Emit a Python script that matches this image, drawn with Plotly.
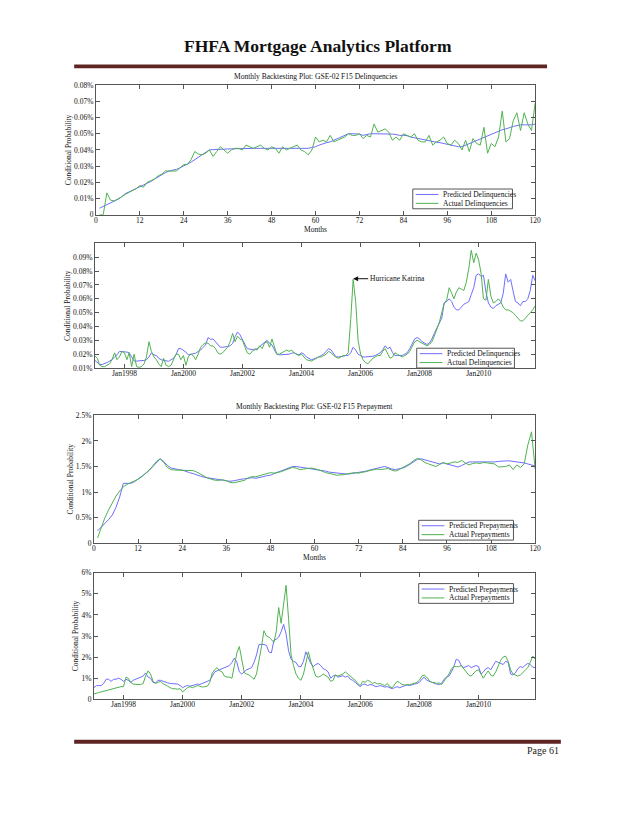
import plotly.graph_objects as go
import pandas as pd

# page size (the browser window); body has an 8px default margin
PAGE_W, PAGE_H = 640, 828
OFF = 8
W, H = PAGE_W - 2 * OFF, PAGE_H - 2 * OFF

# ---------------- data ----------------
months = list(range(1, 121))
dates = [d.strftime("%Y-%m-%d") for d in pd.date_range("1997-01-01", periods=180, freq="MS")]

month_ticks = [0, 12, 24, 36, 48, 60, 72, 84, 96, 108, 120]
date_tick_vals = ["1998-01-01", "2000-01-01", "2002-01-01", "2004-01-01",
                  "2006-01-01", "2008-01-01", "2010-01-01"]
date_tick_text = ["Jan1998", "Jan2000", "Jan2002", "Jan2004", "Jan2006", "Jan2008", "Jan2010"]

dq1_ticks = [0, 0.01, 0.02, 0.03, 0.04, 0.05, 0.06, 0.07, 0.08]
dq1_tick_text = ["0", "0.01%", "0.02%", "0.03%", "0.04%", "0.05%", "0.06%", "0.07%", "0.08%"]
dq2_ticks = [0.01, 0.02, 0.03, 0.04, 0.05, 0.06, 0.07, 0.08, 0.09]
dq2_tick_text = ["0.01%", "0.02%", "0.03%", "0.04%", "0.05%", "0.06%", "0.07%", "0.08%", "0.09%"]
pp1_ticks = [0, 0.5, 1, 1.5, 2, 2.5]
pp1_tick_text = ["0", "0.5%", "1%", "1.5%", "2%", "2.5%"]
pp2_ticks = [0, 1, 2, 3, 4, 5, 6]
pp2_tick_text = ["0", "1%", "2%", "3%", "4%", "5%", "6%"]

dq_names = ["Predicted Delinquencies", "Actual Delinquencies"]
pp_names = ["Predicted Prepayments", "Actual Prepayments"]

# Plot 1: delinquencies by loan age (percent)
dq_age_pred = [
    0.004, 0.005, 0.006, 0.007, 0.008, 0.0095, 0.011, 0.013, 0.014, 0.015,
    0.016, 0.017, 0.018, 0.019, 0.0205, 0.022, 0.0235, 0.025, 0.026, 0.027,
    0.0275, 0.028, 0.029, 0.030, 0.031, 0.0325, 0.034, 0.0355, 0.037, 0.0385,
    0.040, 0.0402, 0.0404, 0.0405, 0.0405, 0.0406, 0.0407, 0.0408, 0.0408, 0.041,
    0.041, 0.041, 0.041, 0.041, 0.041, 0.041, 0.041, 0.041, 0.041, 0.041,
    0.041, 0.041, 0.041, 0.041, 0.041, 0.041, 0.0408, 0.041, 0.0415, 0.042,
    0.043, 0.044, 0.0445, 0.045, 0.046, 0.047, 0.048, 0.049, 0.050, 0.050,
    0.050, 0.0498, 0.049, 0.0495, 0.050, 0.050, 0.050, 0.050, 0.050, 0.050,
    0.0498, 0.0495, 0.049, 0.049, 0.0488, 0.048, 0.0475, 0.047, 0.0465, 0.046,
    0.0455, 0.045, 0.0448, 0.0445, 0.044, 0.0435, 0.043, 0.0425, 0.042, 0.042,
    0.043, 0.044, 0.045, 0.046, 0.047, 0.048, 0.049, 0.050, 0.051, 0.052,
    0.0525, 0.053, 0.054, 0.0545, 0.055, 0.0555, 0.0555, 0.0555, 0.0555, 0.056,
]
dq_age_act = [
    0.000, 0.000, 0.0135, 0.009, 0.0085, 0.0095, 0.011, 0.0125, 0.014, 0.015,
    0.016, 0.018, 0.017, 0.020, 0.021, 0.022, 0.024, 0.025, 0.027, 0.027,
    0.027, 0.027, 0.029, 0.031, 0.031, 0.034, 0.039, 0.0375, 0.037, 0.038,
    0.040, 0.036, 0.039, 0.042, 0.040, 0.038, 0.040, 0.041, 0.041, 0.040,
    0.043, 0.042, 0.041, 0.042, 0.043, 0.041, 0.040, 0.042, 0.041, 0.038,
    0.042, 0.040, 0.041, 0.042, 0.043, 0.040, 0.039, 0.037, 0.040, 0.048,
    0.045, 0.046, 0.045, 0.049, 0.045, 0.046, 0.047, 0.048, 0.050, 0.049,
    0.049, 0.050, 0.047, 0.049, 0.048, 0.056, 0.051, 0.052, 0.053, 0.051,
    0.046, 0.048, 0.046, 0.050, 0.049, 0.048, 0.050, 0.046, 0.045, 0.045,
    0.049, 0.043, 0.045, 0.046, 0.048, 0.044, 0.043, 0.046, 0.044, 0.040,
    0.046, 0.039, 0.047, 0.044, 0.043, 0.054, 0.038, 0.044, 0.042, 0.048,
    0.064, 0.045, 0.047, 0.058, 0.063, 0.052, 0.063, 0.056, 0.052, 0.069,
]

# Plot 2: delinquencies by calendar month, Jan1997-Dec2011 (percent)
dq_cal_pred = [
    0.0155, 0.014, 0.0125, 0.0125, 0.013, 0.014, 0.015, 0.016, 0.018, 0.0195, 0.022, 0.022,
    0.022, 0.0215, 0.021, 0.018, 0.015, 0.015, 0.015, 0.015, 0.0155, 0.016, 0.018, 0.021,
    0.0195, 0.019, 0.017, 0.016, 0.0155, 0.015, 0.0148, 0.016, 0.017, 0.0195, 0.024, 0.024,
    0.023, 0.0215, 0.0195, 0.020, 0.020, 0.0207, 0.022, 0.023, 0.025, 0.0266, 0.032, 0.0307,
    0.031, 0.029, 0.0278, 0.025, 0.025, 0.025, 0.0255, 0.026, 0.0278, 0.0326, 0.036, 0.034,
    0.031, 0.027, 0.024, 0.0235, 0.023, 0.023, 0.024, 0.0255, 0.027, 0.028, 0.030, 0.0278,
    0.0266, 0.023, 0.020, 0.0195, 0.0195, 0.0195, 0.0195, 0.020, 0.0207, 0.021, 0.020, 0.0195,
    0.021, 0.020, 0.018, 0.017, 0.016, 0.0165, 0.017, 0.018, 0.019, 0.020, 0.022, 0.024,
    0.023, 0.020, 0.018, 0.018, 0.018, 0.0185, 0.019, 0.019, 0.021, 0.025, 0.023, 0.020,
    0.019, 0.018, 0.018, 0.018, 0.018, 0.0185, 0.019, 0.020, 0.021, 0.023, 0.026, 0.024,
    0.025, 0.021, 0.019, 0.019, 0.019, 0.019, 0.020, 0.021, 0.024, 0.028, 0.031, 0.032,
    0.031, 0.029, 0.028, 0.027, 0.028, 0.031, 0.035, 0.039, 0.042, 0.046, 0.057, 0.058,
    0.060, 0.058, 0.054, 0.052, 0.052, 0.054, 0.056, 0.057, 0.058, 0.063, 0.068, 0.077,
    0.078, 0.076, 0.077, 0.065, 0.057, 0.054, 0.053, 0.055, 0.056, 0.057, 0.064, 0.078,
    0.072, 0.074, 0.066, 0.058, 0.057, 0.055, 0.058, 0.058, 0.060, 0.066, 0.077, 0.073,
]
dq_cal_act = [
    0.0188, 0.017, 0.012, 0.011, 0.011, 0.012, 0.013, 0.016, 0.021, 0.016, 0.018, 0.022,
    0.021, 0.016, 0.021, 0.011, 0.020, 0.011, 0.0105, 0.011, 0.013, 0.018, 0.029, 0.022,
    0.018, 0.016, 0.013, 0.011, 0.017, 0.012, 0.011, 0.012, 0.016, 0.020, 0.020, 0.016,
    0.019, 0.012, 0.018, 0.020, 0.019, 0.016, 0.020, 0.025, 0.027, 0.028, 0.028, 0.026,
    0.026, 0.024, 0.021, 0.020, 0.021, 0.023, 0.025, 0.029, 0.035, 0.029, 0.033, 0.031,
    0.030, 0.025, 0.021, 0.020, 0.022, 0.024, 0.023, 0.026, 0.024, 0.028, 0.029, 0.025,
    0.031, 0.025, 0.020, 0.020, 0.021, 0.022, 0.023, 0.022, 0.023, 0.021, 0.020, 0.019,
    0.020, 0.018, 0.016, 0.0155, 0.015, 0.016, 0.017, 0.018, 0.018, 0.019, 0.020, 0.022,
    0.021, 0.019, 0.018, 0.017, 0.018, 0.019, 0.019, 0.021, 0.045, 0.074, 0.058, 0.030,
    0.020, 0.016, 0.014, 0.013, 0.015, 0.017, 0.018, 0.019, 0.019, 0.022, 0.024, 0.020,
    0.017, 0.018, 0.021, 0.020, 0.019, 0.018, 0.019, 0.020, 0.022, 0.025, 0.029, 0.030,
    0.029, 0.028, 0.027, 0.026, 0.027, 0.029, 0.033, 0.038, 0.043, 0.050, 0.057, 0.059,
    0.068, 0.064, 0.060, 0.065, 0.068, 0.067, 0.066, 0.072, 0.082, 0.095, 0.086, 0.093,
    0.088, 0.078, 0.060, 0.059, 0.074, 0.062, 0.057, 0.058, 0.060, 0.058, 0.054, 0.052,
    0.052, 0.051, 0.050, 0.048, 0.046, 0.044, 0.044, 0.046, 0.048, 0.050, 0.052, 0.055,
]

# Plot 3: prepayments by loan age (percent)
pp_age_pred = [
    0.24, 0.31, 0.38, 0.46, 0.55, 0.70, 0.90, 1.17, 1.17, 1.17,
    1.20, 1.25, 1.30, 1.36, 1.42, 1.50, 1.59, 1.65, 1.60, 1.52,
    1.47, 1.45, 1.44, 1.43, 1.40, 1.38, 1.36, 1.33, 1.31, 1.29,
    1.28, 1.27, 1.26, 1.25, 1.24, 1.22, 1.21, 1.22, 1.24, 1.25,
    1.26, 1.27, 1.28, 1.27, 1.28, 1.30, 1.32, 1.33, 1.36, 1.39,
    1.42, 1.45, 1.48, 1.50, 1.50, 1.49, 1.48, 1.47, 1.46, 1.45,
    1.44, 1.42, 1.41, 1.39, 1.38, 1.38, 1.37, 1.36, 1.35, 1.36,
    1.37, 1.38, 1.39, 1.41, 1.43, 1.45, 1.47, 1.48, 1.50, 1.48,
    1.45, 1.44, 1.45, 1.47, 1.50, 1.55, 1.60, 1.64, 1.65, 1.63,
    1.60, 1.58, 1.56, 1.55, 1.57, 1.55, 1.52, 1.50, 1.49, 1.52,
    1.55, 1.59, 1.59, 1.59, 1.59, 1.59, 1.58, 1.58, 1.59, 1.60,
    1.61, 1.61, 1.61, 1.60, 1.60, 1.59, 1.57, 1.55, 1.53, 1.51,
]
pp_age_act = [
    0.10, 0.30, 0.50, 0.65, 0.80, 0.92, 1.02, 1.10, 1.15, 1.18,
    1.21, 1.25, 1.30, 1.36, 1.43, 1.51, 1.60, 1.65, 1.58, 1.48,
    1.44, 1.43, 1.43, 1.43, 1.42, 1.42, 1.42, 1.39, 1.35, 1.31,
    1.27, 1.25, 1.23, 1.23, 1.24, 1.22, 1.19, 1.18, 1.20, 1.22,
    1.23, 1.28, 1.30, 1.30, 1.32, 1.35, 1.37, 1.38, 1.37, 1.38,
    1.40, 1.43, 1.46, 1.48, 1.47, 1.44, 1.45, 1.46, 1.47, 1.46,
    1.44, 1.41, 1.38, 1.37, 1.35, 1.33, 1.33, 1.34, 1.36, 1.37,
    1.38, 1.37, 1.38, 1.40, 1.42, 1.44, 1.45, 1.44, 1.45, 1.46,
    1.43, 1.41, 1.44, 1.48, 1.52, 1.56, 1.62, 1.66, 1.63, 1.58,
    1.55, 1.52, 1.50, 1.54, 1.58, 1.55, 1.57, 1.59, 1.58, 1.62,
    1.57, 1.53, 1.56, 1.57, 1.56, 1.58, 1.57, 1.56, 1.55, 1.49,
    1.50, 1.50, 1.53, 1.44, 1.53, 1.48, 1.55, 1.92, 2.18, 1.45,
]

# Plot 4: prepayments by calendar month, Jan1997-Dec2011 (percent)
pp_cal_pred = [
    0.55, 0.65, 0.65, 0.65, 0.75, 0.95, 0.95, 0.85, 0.95, 0.95, 1.00, 0.95,
    0.85, 0.95, 0.90, 0.80, 0.90, 0.95, 1.00, 1.05, 1.10, 1.25, 1.05, 1.00,
    0.80, 0.78, 0.90, 0.90, 0.85, 0.82, 0.78, 0.75, 0.75, 0.72, 0.72, 0.65,
    0.55, 0.62, 0.65, 0.62, 0.65, 0.70, 0.72, 0.70, 0.75, 0.82, 0.88, 0.90,
    1.10, 1.30, 1.35, 1.40, 1.45, 1.50, 1.55, 1.60, 1.75, 1.95, 1.75, 1.30,
    1.20, 1.30, 1.40, 1.45, 1.50, 1.75, 2.10, 2.60, 2.60, 2.60, 2.55, 2.25,
    2.20, 2.80, 2.85, 2.95, 3.20, 3.55, 3.10, 2.30, 1.90, 1.80, 1.75, 1.55,
    1.55, 1.80, 2.25, 2.00, 1.70, 1.55, 1.65, 1.70, 1.60, 1.45, 1.40, 1.30,
    1.00, 1.10, 1.15, 1.05, 1.10, 1.12, 1.05, 1.10, 0.95, 0.90, 0.80, 0.70,
    0.60, 0.70, 0.72, 0.65, 0.70, 0.68, 0.62, 0.60, 0.65, 0.62, 0.58, 0.60,
    0.55, 0.50, 0.55, 0.60, 0.55, 0.60, 0.65, 0.68, 0.65, 0.70, 0.72, 0.75,
    0.80, 0.95, 1.05, 0.90, 0.85, 0.80, 0.75, 0.72, 0.70, 0.75, 0.95, 1.05,
    1.10, 1.30, 1.55, 1.90, 1.85, 1.60, 1.50, 1.55, 1.60, 1.50, 1.55, 1.60,
    1.55, 1.20, 1.30, 1.45, 1.50, 1.40, 1.60, 1.80, 1.75, 1.70, 1.65, 1.80,
    1.75, 1.20, 1.15, 1.25, 1.45, 1.55, 1.50, 1.62, 1.70, 1.65, 1.52, 1.50,
]
pp_cal_act = [
    0.25, 0.30, 0.32, 0.35, 0.38, 0.42, 0.45, 0.48, 0.52, 0.55, 0.58, 0.60,
    0.60, 1.05, 1.00, 0.80, 0.72, 0.70, 0.70, 0.70, 0.75, 1.10, 1.35, 1.20,
    0.85, 0.75, 0.80, 0.85, 0.75, 0.70, 0.62, 0.55, 0.50, 0.50, 0.48, 0.50,
    0.35, 0.45, 0.55, 0.60, 0.55, 0.60, 0.65, 0.62, 0.58, 0.60, 0.62, 0.80,
    1.25, 1.40, 1.50, 1.35, 1.30, 1.10, 1.05, 1.05, 1.00, 1.60, 2.20, 2.50,
    1.80, 1.25, 1.20, 1.15, 1.05, 0.95, 1.20, 1.80, 2.50, 3.25, 3.00, 2.95,
    2.80, 2.70, 3.20, 4.35, 3.60, 4.40, 5.40, 3.80, 2.10, 1.60, 1.20, 1.00,
    0.90, 1.20, 1.80, 2.25, 1.80, 1.40, 1.10, 1.05, 1.10, 1.20, 1.10, 1.05,
    0.85, 0.90, 1.15, 1.10, 1.15, 1.20, 1.30, 1.20, 1.10, 1.00, 0.90, 0.75,
    0.65, 0.85, 0.80, 0.90, 0.85, 0.75, 0.80, 0.72, 0.75, 0.70, 0.65, 0.75,
    0.60, 0.55, 0.70, 0.85, 0.80, 0.70, 0.68, 0.68, 0.70, 0.72, 0.75, 0.80,
    0.90, 1.10, 1.15, 1.05, 0.90, 0.80, 0.80, 0.75, 0.78, 0.70, 0.85, 1.00,
    1.20, 1.45, 1.55, 1.55, 1.55, 1.60, 1.45, 1.30, 1.15, 1.10, 1.25, 1.35,
    1.40, 1.20, 1.00, 1.20, 1.35, 1.15, 1.10, 1.30, 1.60, 1.85, 2.00, 2.05,
    1.80, 1.40, 1.20, 1.15, 1.10, 1.15, 1.25, 1.35, 1.50, 1.75, 2.05, 1.90,
]

katrina_date = "2005-10-01"
katrina_value = 0.0745

# ---------------- style ----------------
BLUE = "rgb(110,110,255)"
GREEN = "rgb(80,178,80)"
COLORS = [BLUE, GREEN]
AX = "#555555"
SERIF = "Liberation Serif"
FS = 7.5


def px_x(x):
    """page pixel -> paper fraction"""
    return (x - OFF) / W


def px_y(y):
    return 1 - (y - OFF) / H


fig = go.Figure()


def add_pair(xs, pred, act, names, xa, ya):
    for vals, name, col in zip([pred, act], names, COLORS):
        fig.add_trace(go.Scatter(x=xs, y=vals, mode="lines", name=name,
                                 line=dict(color=col, width=1), xaxis=xa, yaxis=ya,
                                 showlegend=False))


add_pair(months, dq_age_pred, dq_age_act, dq_names, "x", "y")
add_pair(dates, dq_cal_pred, dq_cal_act, dq_names, "x2", "y2")
add_pair(months, pp_age_pred, pp_age_act, pp_names, "x3", "y3")
add_pair(dates, pp_cal_pred, pp_cal_act, pp_names, "x4", "y4")

tfont = dict(family=SERIF, size=FS, color="#111")
axis_common = dict(showline=True, linecolor=AX, linewidth=1, mirror="ticks",
                   ticks="inside", ticklen=4, tickcolor=AX, tickwidth=1,
                   showgrid=False, zeroline=False, tickfont=tfont)
xaxis_common = dict(axis_common, ticklabelstandoff=-2)
ytitle = dict(text="Conditional Probability", font=tfont, standoff=1)
xtitle = dict(text="Months", font=tfont, standoff=0)

boxes = {
    1: (95, 540, 82, 213),
    2: (94, 540, 242, 368),
    3: (93, 540, 416, 545),
    4: (93, 540, 575, 703),
}


def dom(b):
    l, r, t, btm = b
    return [px_x(l), px_x(r)], [px_y(btm), px_y(t)]


xd1, yd1 = dom(boxes[1])
xd2, yd2 = dom(boxes[2])
xd3, yd3 = dom(boxes[3])
xd4, yd4 = dom(boxes[4])

date_range = ["1997-01-01", "2011-12-01"]

fig.update_layout(
    width=W, height=H, margin=dict(l=0, r=0, t=0, b=0),
    paper_bgcolor="white", plot_bgcolor="white",
    xaxis=dict(xaxis_common, domain=xd1, anchor="y", range=[0, 120],
               tickvals=month_ticks, title=xtitle),
    yaxis=dict(axis_common, domain=yd1, anchor="x", range=[0, 0.08],
               tickvals=dq1_ticks, ticktext=dq1_tick_text, title=ytitle),
    xaxis2=dict(xaxis_common, domain=xd2, anchor="y2", type="date", range=date_range,
                tickvals=date_tick_vals, ticktext=date_tick_text),
    yaxis2=dict(axis_common, domain=yd2, anchor="x2", range=[0.01, 0.10],
                tickvals=dq2_ticks, ticktext=dq2_tick_text, title=ytitle),
    xaxis3=dict(xaxis_common, domain=xd3, anchor="y3", range=[0, 120],
                tickvals=month_ticks, title=xtitle),
    yaxis3=dict(axis_common, domain=yd3, anchor="x3", range=[0, 2.5],
                tickvals=pp1_ticks, ticktext=pp1_tick_text, title=ytitle),
    xaxis4=dict(xaxis_common, domain=xd4, anchor="y4", type="date", range=date_range,
                tickvals=date_tick_vals, ticktext=date_tick_text),
    yaxis4=dict(axis_common, domain=yd4, anchor="x4", range=[0, 6],
                tickvals=pp2_ticks, ticktext=pp2_tick_text, title=ytitle),
)

annotations = [
    dict(text="<b>FHFA Mortgage Analytics Platform</b>", x=px_x(320), y=px_y(42),
         xref="paper", yref="paper", showarrow=False, xanchor="center", yanchor="middle",
         font=dict(family=SERIF, size=17.5, color="#111")),
    dict(text="Monthly Backtesting Plot: GSE-02 F15 Delinquencies",
         x=(xd1[0] + xd1[1]) / 2, y=px_y(73), xref="paper", yref="paper",
         showarrow=False, xanchor="center", yanchor="middle", font=tfont),
    dict(text="Monthly Backtesting Plot: GSE-02 F15 Prepayment",
         x=(xd3[0] + xd3[1]) / 2, y=px_y(407), xref="paper", yref="paper",
         showarrow=False, xanchor="center", yanchor="middle", font=tfont),
    dict(text="Hurricane Katrina", x=katrina_date, y=katrina_value, xref="x2", yref="y2",
         showarrow=True, arrowhead=2, arrowsize=1, arrowwidth=1, arrowcolor="#111",
         ax=44, ay=0, font=tfont),
    dict(text="Page 61", x=px_x(566), y=px_y(755), xref="paper", yref="paper",
         showarrow=False, xanchor="right", yanchor="middle",
         font=dict(family=SERIF, size=10, color="#222")),
]

shapes = [
    dict(type="rect", xref="paper", yref="paper", x0=px_x(73), x1=px_x(552),
         y0=px_y(65), y1=px_y(61), fillcolor="#5e2424", line=dict(width=0)),
    dict(type="rect", xref="paper", yref="paper", x0=px_x(73), x1=px_x(566),
         y0=px_y(748), y1=px_y(744), fillcolor="#5e2424", line=dict(width=0)),
]

# compact MATLAB-style legend boxes (left, right, top, bottom on the page)
legend_boxes = [
    ((416, 517, 187, 207), dq_names),
    ((420, 519, 348, 368), dq_names),
    ((422, 518, 522, 542), pp_names),
    ((422, 518, 586, 606), pp_names),
]
for (l, r, t, b), names in legend_boxes:
    shapes.append(dict(type="rect", xref="paper", yref="paper",
                       x0=px_x(l), x1=px_x(r), y0=px_y(b), y1=px_y(t),
                       fillcolor="white", line=dict(color=AX, width=1), layer="above"))
    for k, (name, col) in enumerate(zip(names, COLORS)):
        yy = t + 5.5 + 9 * k
        shapes.append(dict(type="line", xref="paper", yref="paper",
                           x0=px_x(l + 3), x1=px_x(l + 26), y0=px_y(yy), y1=px_y(yy),
                           line=dict(color=col, width=1), layer="above"))
        annotations.append(dict(text=name, x=px_x(l + 29), y=px_y(yy), xref="paper",
                                yref="paper", showarrow=False, xanchor="left",
                                yanchor="middle", font=tfont))

fig.update_layout(annotations=annotations, shapes=shapes)

fig.write_html("out.html")
